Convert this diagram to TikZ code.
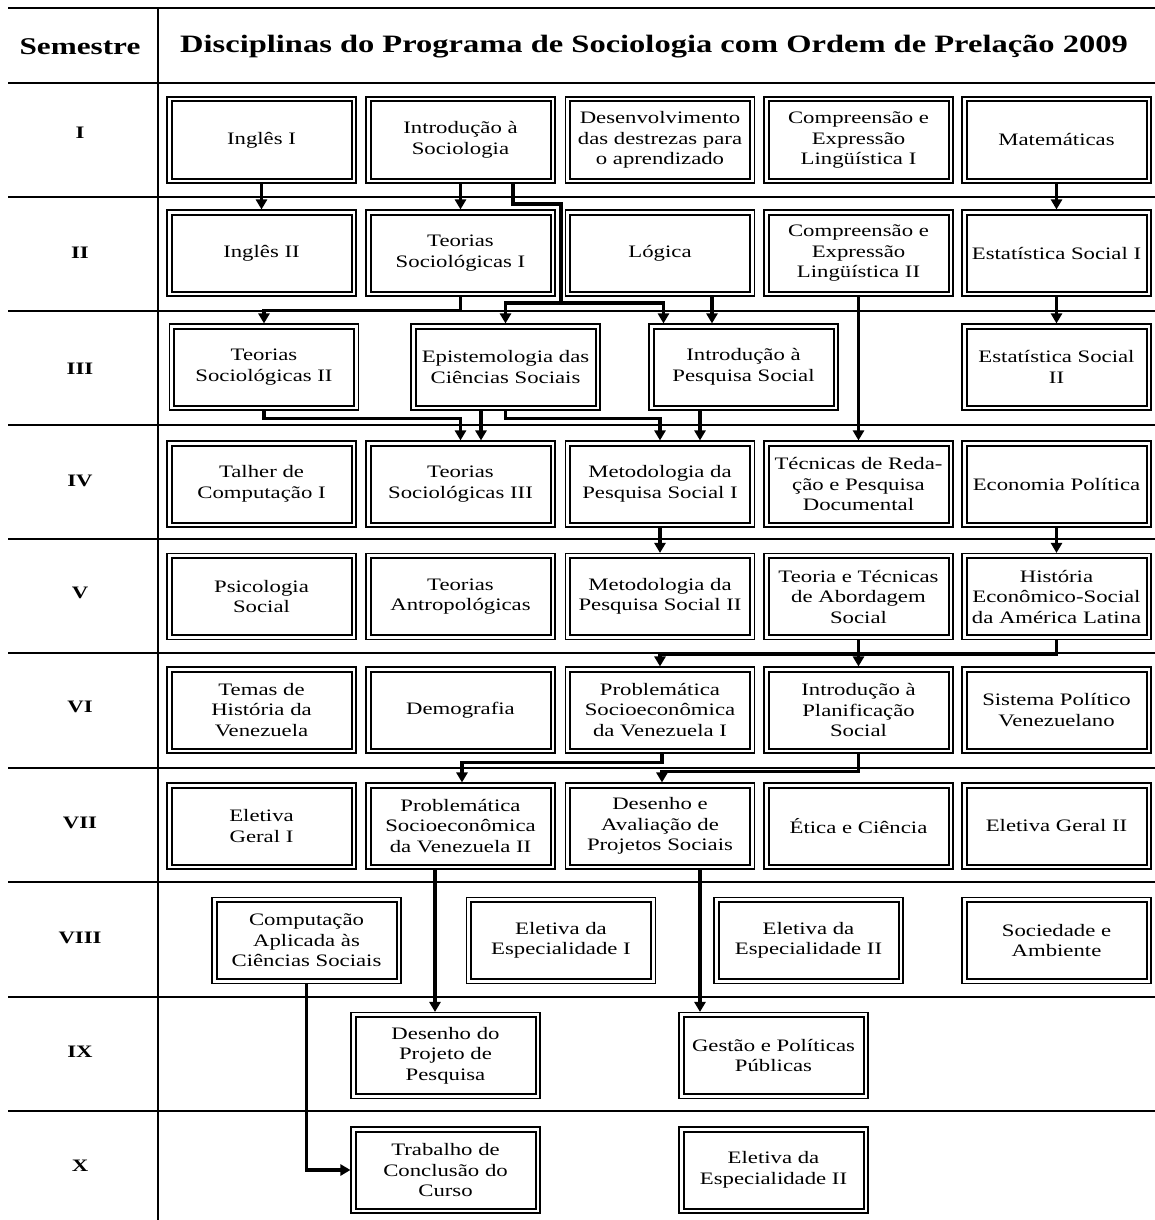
\documentclass[tikz,border=0pt]{standalone}
\usepackage{fontspec}
\setmainfont{Liberation Serif}[FakeStretch=1.3]
\usetikzlibrary{arrows.meta}
\tikzset{
  course/.style={draw, line width=1.1pt, minimum width=189pt, minimum height=86pt,
    align=center, inner sep=2pt, font=\fontsize{17.5}{20.5}\selectfont,
    path picture={\draw[line width=2pt]
      ([shift={(4.5pt,4.5pt)}]path picture bounding box.south west) rectangle
      ([shift={(-4.5pt,-4.5pt)}]path picture bounding box.north east);}},
  arr/.style={line width=3.5pt, -{Triangle[length=10pt,width=11pt]}},
  rowrule/.style={line width=1.6pt},
  sem/.style={font=\bfseries\fontsize{17.5}{20}\selectfont},
}
\begin{document}
\begin{tikzpicture}[x=1pt,y=-1pt]
\useasboundingbox (0,0) rectangle (1155,1220);
\fill[white] (0,0) rectangle (1155,1220);
% table rules
\draw[line width=1.5pt] (8,8) -- (1155,8);
\draw[line width=2.6pt] (8,83) -- (1155,83);
\foreach \yy in {197,311,425,539,653,768,882,997,1111}
  \draw[rowrule] (8,\yy) -- (1155,\yy);
\draw[rowrule] (158,8) -- (158,1220);
% header
\node[font=\bfseries\fontsize{24}{28}\selectfont] (hsem) at (80,47) {Semestre};
\node[font=\bfseries\fontsize{25}{30}\selectfont] (htitle) at (654,47) {Disciplinas do Programa de Sociologia com Ordem de Prelação 2009};
% semesters
\node[sem] (s1) at (80,133) {I};
\node[sem] (s2) at (80,253) {II};
\node[sem] (s3) at (80,369) {III};
\node[sem] (s4) at (80,481) {IV};
\node[sem] (s5) at (80,593) {V};
\node[sem] (s6) at (80,707) {VI};
\node[sem] (s7) at (80,823) {VII};
\node[sem] (s8) at (80,938) {VIII};
\node[sem] (s9) at (80,1052) {IX};
\node[sem] (s10) at (80,1166) {X};
% row I
\node[course] (ing1) at (261.5,140) {Inglês I};
\node[course] (isoc) at (460.5,140) {Introdução à\\Sociologia};
\node[course] (dest) at (660,140) {Desenvolvimento\\das destrezas para\\o aprendizado};
\node[course] (cel1) at (858.5,140) {Compreensão e\\Expressão\\Lingüística I};
\node[course] (mat) at (1056.5,140) {Matemáticas};
% row II
\node[course] (ing2) at (261.5,253) {Inglês II};
\node[course] (ts1) at (460.5,253) {Teorias\\Sociológicas I};
\node[course] (log) at (660,253) {Lógica};
\node[course] (cel2) at (858.5,253) {Compreensão e\\Expressão\\Lingüística II};
\node[course] (est1) at (1056.5,253) {Estatística Social I};
% row III
\node[course] (ts2) at (264,367) {Teorias\\Sociológicas II};
\node[course] (epi) at (505.5,367) {Epistemologia das\\Ciências Sociais};
\node[course] (ipq) at (743.5,367) {Introdução à\\Pesquisa Social};
\node[course] (est2) at (1056.5,367) {Estatística Social\\II};
% row IV
\node[course] (tc1) at (261.5,484) {Talher de\\Computação I};
\node[course] (ts3) at (460.5,484) {Teorias\\Sociológicas III};
\node[course] (mps1) at (660,484) {Metodologia da\\Pesquisa Social I};
\node[course] (tred) at (858.5,484) {Técnicas de Reda-\\ção e Pesquisa\\Documental};
\node[course] (eco) at (1056.5,484) {Economia Política};
% row V
\node[course] (psi) at (261.5,596.5) {Psicologia\\Social};
\node[course] (tant) at (460.5,596.5) {Teorias\\Antropológicas};
\node[course] (mps2) at (660,596.5) {Metodologia da\\Pesquisa Social II};
\node[course] (ttab) at (858.5,596.5) {Teoria e Técnicas\\de Abordagem\\Social};
\node[course] (hist) at (1056.5,596.5) {História\\Econômico-Social\\da América Latina};
% row VI
\node[course] (temas) at (261.5,710) {Temas de\\História da\\Venezuela};
\node[course] (demo) at (460.5,710) {Demografia};
\node[course] (prob1) at (660,710) {Problemática\\Socioeconômica\\da Venezuela I};
\node[course] (plan) at (858.5,710) {Introdução à\\Planificação\\Social};
\node[course] (spv) at (1056.5,710) {Sistema Político\\Venezuelano};
% row VII
\node[course] (eg1) at (261.5,826) {Eletiva\\Geral I};
\node[course] (prob2) at (460.5,826) {Problemática\\Socioeconômica\\da Venezuela II};
\node[course] (daps) at (660,826) {Desenho e\\Avaliação de\\Projetos Sociais};
\node[course] (etica) at (858.5,826) {Ética e Ciência};
\node[course] (eg2) at (1056.5,826) {Eletiva Geral II};
% row VIII
\node[course] (comp) at (306.5,940.5) {Computação\\Aplicada às\\Ciências Sociais};
\node[course] (ee1) at (561,940.5) {Eletiva da\\Especialidade I};
\node[course] (ee2) at (808.5,940.5) {Eletiva da\\Especialidade II};
\node[course] (soc) at (1056.5,940.5) {Sociedade e\\Ambiente};
% row IX
\node[course] (dpp) at (445.5,1055.5) {Desenho do\\Projeto de\\Pesquisa};
\node[course] (gpp) at (773.5,1055.5) {Gestão e Políticas\\Públicas};
% row X
\node[course] (tcc) at (445.5,1170) {Trabalho de\\Conclusão do\\Curso};
\node[course] (ee2b) at (773.5,1170) {Eletiva da\\Especialidade II};
% connectors
\draw[arr] (ing1.south) -- (ing2.north);
\draw[arr] (isoc.south) -- (ts1.north);
\coordinate (a1) at (561,204);
\coordinate (a2) at (561,303);
\draw[arr] ([xshift=52.5pt]isoc.south) |- (a1) -- (a2) -| (epi.north);
\draw[arr] (a2) -| ([xshift=-80pt]ipq.north);
\coordinate (lg) at ([xshift=52pt]log.south);
\draw[arr] (lg) -- (lg |- ipq.north);
\draw[arr] (ts1.south) -- ++(0,14) -| (ts2.north);
\draw[arr] (cel2.south) -- (tred.north);
\draw[arr] (mat.south) -- (est1.north);
\draw[arr] (est1.south) -- (est1.south |- est2.north);
\draw[arr] (ts2.south) -- ++(0,8) -| (ts3.north);
\coordinate (e1) at ([xshift=-24.5pt]epi.south);
\draw[arr] (e1) -- (e1 |- ts3.north);
\draw[arr] (epi.south) -- ++(0,8) -| (mps1.north);
\coordinate (i1) at ([xshift=-43.5pt]ipq.south);
\draw[arr] (i1) -- (i1 |- mps1.north);
\draw[arr] (mps1.south) -- (mps2.north);
\draw[arr] (eco.south) -- (hist.north);
\draw[arr] (ttab.south) -- (plan.north);
\draw[arr] (hist.south) -- ++(0,14) -| (prob1.north);
\draw[arr] ([xshift=2pt]prob1.south) -- ++(0,9) -| ([xshift=1.5pt]prob2.north);
\draw[arr] (plan.south) -- ++(0,18) -| ([xshift=2pt]daps.north);
\coordinate (p2) at ([xshift=-25.5pt]prob2.south);
\draw[arr] (p2) -- (p2 |- dpp.north);
\coordinate (d2) at ([xshift=40pt]daps.south);
\draw[arr] (d2) -- (d2 |- gpp.north);
\draw[arr] (comp.south) |- (tcc.west);
\end{tikzpicture}
\end{document}
